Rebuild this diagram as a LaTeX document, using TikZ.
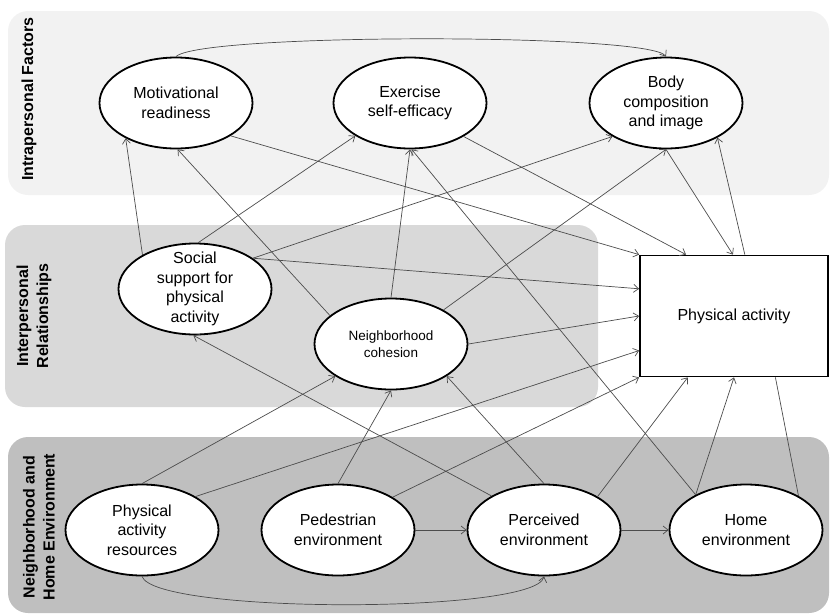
\documentclass[tikz,border=0pt]{standalone}
\usepackage{fontspec}
\setmainfont{Liberation Sans}
\usetikzlibrary{shapes.geometric,arrows.meta}
\begin{document}
\begin{tikzpicture}[x=1pt,y=-1pt,>={Straight Barb[length=5pt,width=8pt]},
  factor/.style={ellipse,draw,line width=1.8pt,fill=white,minimum width=153pt,
    minimum height=91pt,inner xsep=0pt,inner ysep=-6pt,align=center,
    font=\fontsize{16}{19.5}\selectfont},
  link/.style={->,draw=black!70,line width=0.7pt},
  band/.style={rounded corners=20pt},
  grouplabel/.style={rotate=90,align=center,font=\bfseries\fontsize{16}{20}\selectfont}]
\useasboundingbox (0,0) rectangle (830,614);
% levels
\fill[band,black!5] (8,11) rectangle (829,195);
\fill[band,black!15] (5,225) rectangle (598,407);
\fill[band,black!25] (8,437) rectangle (829,613);
\node[grouplabel] (intra) at (29,99) {Intrapersonal Factors};
\node[grouplabel] (inter) at (34,316) {Interpersonal\\Relationships};
\node[grouplabel] (envir) at (39,527) {Neighborhood and\\Home Environment};
% factors
\node[factor] (mot) at (176,103) {Motivational\\readiness};
\node[factor] (ese) at (410,103) {Exercise\\self-efficacy};
\node[factor] (bci) at (666,103) {Body\\composition\\and image};
\node[factor] (ssp) at (195,289) {Social\\support for\\physical\\activity};
\node[factor,font=\fontsize{13.5}{17}\selectfont] (coh) at (391,344) {Neighborhood\\cohesion};
\node[factor] (par) at (142,530) {Physical\\activity\\resources};
\node[factor] (ped) at (338,530) {Pedestrian\\environment};
\node[factor] (per) at (544,530) {Perceived\\environment};
\node[factor] (home) at (746,530) {Home\\environment};
\node[draw,line width=1.8pt,fill=white,minimum width=188pt,minimum height=121pt,
  font=\fontsize{16}{19.5}\selectfont] (pa) at (734,316) {Physical activity};
% paths
\draw[link] (mot.north) .. controls (200,33) and (650,33) .. (bci.north);
\draw[link] (par.south) .. controls (155,614) and (535,614) .. (per.south);
\draw[link] (ped) -- (per);
\draw[link] (per) -- (home);
\draw[link] (ssp.147) -- (mot.215);
\draw[link] (coh.155) -- (mot.272);
\draw[link] (ssp.86) -- (ese.211);
\draw[link] (coh.90) -- (ese.270);
\draw[link] (home.145) -- (ese.272);
\draw[link] (ssp.28) -- (bci.212);
\draw[link] (coh.33) -- (bci.270);
\draw[link] (par.90) -- (coh.210);
\draw[link] (ped.90) -- (coh.270);
\draw[link] (per.90) -- (coh.330);
\draw[link] (per.147) -- (ssp.268);
\draw[link] (mot.329) -- (pa.north west);
\draw[link] (ssp.28) -- (pa.164);
\draw[link] (coh.0) -- (pa.west);
\draw[link] (par.32) -- (pa.200);
\draw[link] (ped.31) -- (pa.south west);
\draw[link] (ese.328) -- (pa.128);
\draw[link] (bci.270) -- (pa.91);
\draw[link] (pa.80) -- (bci.326);
\draw[link] (per.32) -- (pa.233);
\draw[link] (home.145) -- (pa.270);
\draw[link,-] (home.33) -- (pa.304);
\end{tikzpicture}
\end{document}
